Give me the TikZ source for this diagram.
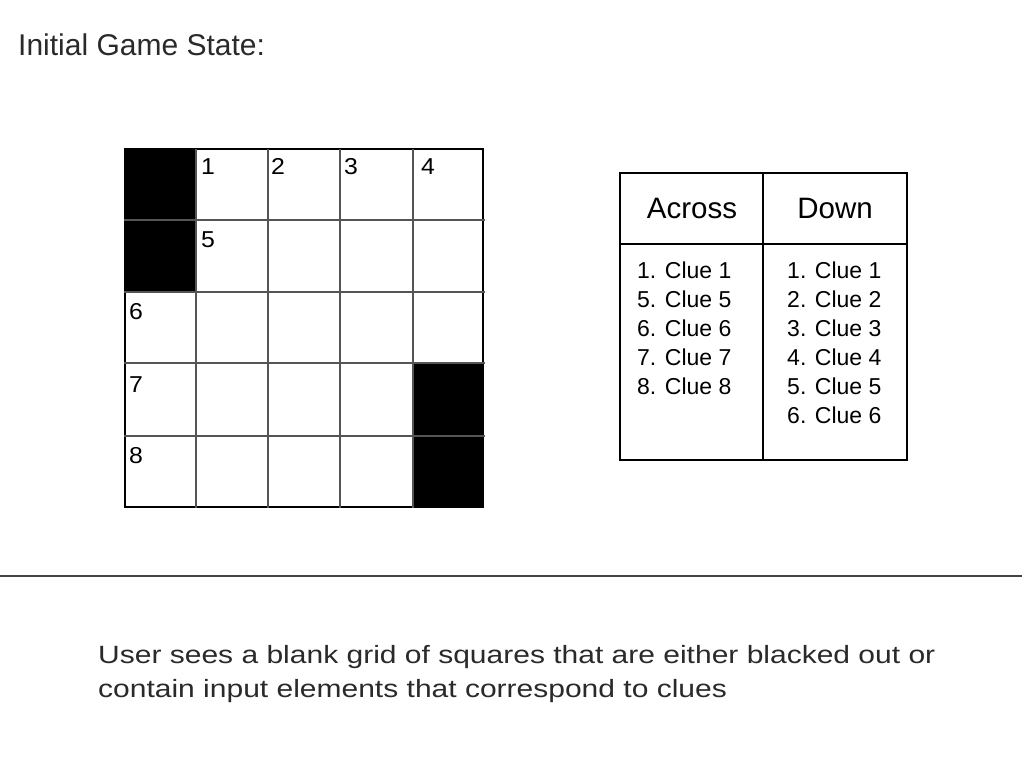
\documentclass[tikz,border=0pt]{standalone}
\usepackage{fontspec}
\setmainfont{Liberation Sans}
\newfontfamily\widesans[FakeStretch=1.2]{Liberation Sans}
\newfontfamily\numsans[FakeStretch=1.08]{Liberation Sans}
\definecolor{gridgray}{HTML}{555555}
\definecolor{txtgray}{HTML}{2A2A2A}
\begin{document}
\begin{tikzpicture}[x=1pt,y=-1pt,
  lbl/.style={inner sep=0pt,anchor=base west},
  title/.style={lbl,font=\fontsize{30}{36}\selectfont,text=txtgray},
  cellnum/.style={lbl,font=\numsans\fontsize{23}{26}\selectfont},
  hdr/.style={inner sep=0pt,anchor=base,font=\fontsize{29.5}{34}\selectfont},
  clue/.style={lbl,font=\fontsize{23}{29}\selectfont,align=left},
  inner/.style={draw=gridgray,line width=2pt},
  outer/.style={draw=black,line width=2pt},
  tbl/.style={draw=black,line width=1.5pt}]
\useasboundingbox (0,0) rectangle (1024,768);
\fill[white] (0,0) rectangle (1024,768);
% title
\node[title] (ttl) at (18,56) {Initial Game State:};
% grid black cells
\fill[black] (125,149) rectangle (196,292);
\fill[black] (413,363) rectangle (483,507);
% outer border
\draw[outer] (125,149) rectangle (483,507);
% inner lines
\foreach \x in {196,268,340,413} \draw[inner] (\x,149) -- (\x,508);
\foreach \y in {220,292,363,436} \draw[inner] (124,\y) -- (485,\y);
% numbers
\node[cellnum] (n1) at (201,174) {1};
\node[cellnum] (n2) at (271,174) {2};
\node[cellnum] (n3) at (344,174) {3};
\node[cellnum] (n4) at (421,174) {4};
\node[cellnum] (n5) at (201,247) {5};
\node[cellnum] (n6) at (129,319) {6};
\node[cellnum] (n7) at (129,392) {7};
\node[cellnum] (n8) at (129,463) {8};
% clue table
\draw[tbl] (620,173) rectangle (907,460);
\draw[tbl] (620,244) -- (907,244);
\draw[tbl] (763,173) -- (763,460);
\node[hdr] (across) at (692,218) {Across};
\node[hdr] (down) at (835,218) {Down};
\foreach \t [count=\i from 0] in {1. Clue 1,5. Clue 5,6. Clue 6,7. Clue 7,8. Clue 8}
  \node[clue] (a\i) at (637,278+29*\i) {\t};
\foreach \t [count=\i from 0] in {1. Clue 1,2. Clue 2,3. Clue 3,4. Clue 4,5. Clue 5,6. Clue 6}
  \node[clue] (d\i) at (787,278+29*\i) {\t};
% separator
\draw[draw=gridgray!80!black,line width=2.2pt] (0,576) -- (1022,576);
% caption
\node[lbl,font=\widesans\fontsize{25}{34}\selectfont,text=txtgray] (cap1) at (98,663) {User sees a blank grid of squares that are either blacked out or};
\node[lbl,font=\widesans\fontsize{25}{34}\selectfont,text=txtgray] (cap2) at (98,697) {contain input elements that correspond to clues};
\end{tikzpicture}
\end{document}
